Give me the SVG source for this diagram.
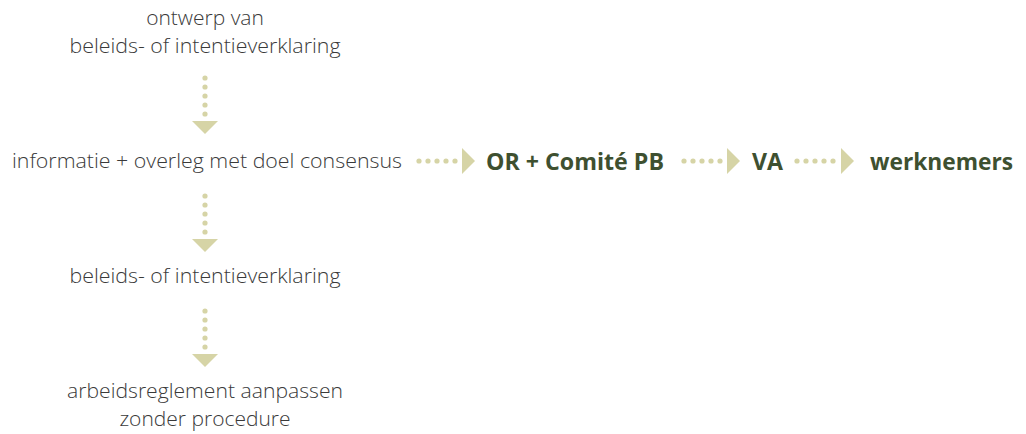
<svg xmlns="http://www.w3.org/2000/svg" width="1026" height="434" viewBox="0 0 1026 434">
<style>
.t{font-family:"Open Sans","Noto Sans",sans-serif;font-weight:300;font-size:21px;fill:#3a3a3a;text-anchor:middle}
.b{font-family:"Open Sans","Noto Sans",sans-serif;font-weight:700;font-size:24px;fill:#3e5030}
.d{fill:#d6d4a6}
</style>
<rect width="1026" height="434" fill="#ffffff"/>
<g id="connectors">
<g class="d">
<circle cx="205" cy="78" r="2.6"/><circle cx="205" cy="87" r="2.6"/><circle cx="205" cy="96" r="2.6"/><circle cx="205" cy="105" r="2.6"/><circle cx="205" cy="114" r="2.6"/>
<polygon points="192,121 218,121 205,134"/>
<circle cx="205" cy="196" r="2.6"/><circle cx="205" cy="205" r="2.6"/><circle cx="205" cy="214" r="2.6"/><circle cx="205" cy="223" r="2.6"/><circle cx="205" cy="232" r="2.6"/>
<polygon points="192,239 218,239 205,252"/>
<circle cx="205" cy="311" r="2.6"/><circle cx="205" cy="320" r="2.6"/><circle cx="205" cy="329" r="2.6"/><circle cx="205" cy="338" r="2.6"/><circle cx="205" cy="347" r="2.6"/>
<polygon points="192,354 218,354 205,367"/>
<circle cx="419" cy="161" r="2.6"/><circle cx="428" cy="161" r="2.6"/><circle cx="437" cy="161" r="2.6"/><circle cx="446" cy="161" r="2.6"/><circle cx="455" cy="161" r="2.6"/>
<polygon points="462,148 462,174 475,161"/>
<circle cx="684" cy="161" r="2.6"/><circle cx="693" cy="161" r="2.6"/><circle cx="702" cy="161" r="2.6"/><circle cx="711" cy="161" r="2.6"/><circle cx="720" cy="161" r="2.6"/>
<polygon points="727,148 727,174 740,161"/>
<circle cx="797" cy="161" r="2.6"/><circle cx="806" cy="161" r="2.6"/><circle cx="815" cy="161" r="2.6"/><circle cx="824" cy="161" r="2.6"/><circle cx="833" cy="161" r="2.6"/>
<polygon points="841,148 841,174 854,161"/>
</g>
</g>
<g id="n1"><text class="t" x="205" y="25">ontwerp van</text><text class="t" x="205" y="53" textLength="271" lengthAdjust="spacingAndGlyphs">beleids- of intentieverklaring</text></g>
<g id="n2"><text class="t" x="207" y="168" textLength="390" lengthAdjust="spacingAndGlyphs">informatie + overleg met doel consensus</text></g>
<g id="n3"><text class="b" x="486" y="170" textLength="178" lengthAdjust="spacingAndGlyphs">OR + Comité PB</text></g>
<g id="n4"><text class="b" x="752" y="170" textLength="31" lengthAdjust="spacingAndGlyphs">VA</text></g>
<g id="n5"><text class="b" x="870" y="170" textLength="143" lengthAdjust="spacingAndGlyphs">werknemers</text></g>
<g id="n6"><text class="t" x="205" y="283" textLength="271" lengthAdjust="spacingAndGlyphs">beleids- of intentieverklaring</text></g>
<g id="n7"><text class="t" x="205" y="398" textLength="276" lengthAdjust="spacingAndGlyphs">arbeidsreglement aanpassen</text><text class="t" x="205" y="426">zonder procedure</text></g>
</svg>
